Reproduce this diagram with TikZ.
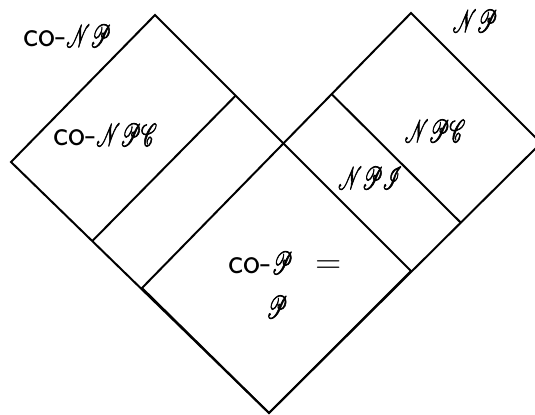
\documentclass[tikz,border=0pt]{standalone}
\usepackage{graphicx}
\usepackage{mathrsfs}
\usetikzlibrary{calc}
% narrow script letters, drawn with a stroked outline to make them heavier
\newcommand{\cxclass}[1]{\special{pdf:literal direct 2 Tr 0.45 w}\scalebox{0.55}[0.92]{$\mathscr{#1}$}\special{pdf:literal direct 0 Tr}}

\begin{document}
\begin{tikzpicture}[x=0.5pt, y=-0.5pt,
        edge/.style={line width=1pt, line join=miter},
        setname/.style={font=\sffamily\fontsize{18}{21}\selectfont, inner sep=0pt},
    ]
    \useasboundingbox (0,0) rectangle (535,414);
    \clip (0,0) rectangle (535,414);

    % corners of the two classes
    \coordinate (conptop) at (155,15);
    \coordinate (conpleft) at (11,162);
    \coordinate (bottom) at (269,413);
    \coordinate (conpright) at (411,271);
    \coordinate (nptop) at (411,13);
    \coordinate (npleft) at (142,288);
    \coordinate (npright) at (541,143);

    \draw[edge] (conptop) -- (conpleft) -- (bottom) -- (conpright) -- cycle;
    \draw[edge] (nptop) -- (npleft) -- (bottom) -- (npright) -- cycle;

    % complete problems
    \draw[edge] ($(conptop)!0.315!(conpright)$) -- ($(conpleft)!0.315!(bottom)$);
    \draw[edge] ($(nptop)!0.295!(npleft)$) -- ($(npright)!0.295!(bottom)$);

    \node[setname] (conp) at (67,36) {co-\cxclass{NP}};
    \node[setname] (conpc) at (105,135) {co-\cxclass{NPC}};
    \node[setname] (np) at (475,21) {\cxclass{NP}};
    \node[setname] (npc) at (435,131) {\cxclass{NPC}};
    \node[setname] (npi) at (370,178) {\cxclass{NPI}};
    \node[setname] (cop) at (285,263) {co-\cxclass{P}\ \ =};
    \node[setname] (p) at (277,307) {\cxclass{P}};
\end{tikzpicture}
\end{document}
